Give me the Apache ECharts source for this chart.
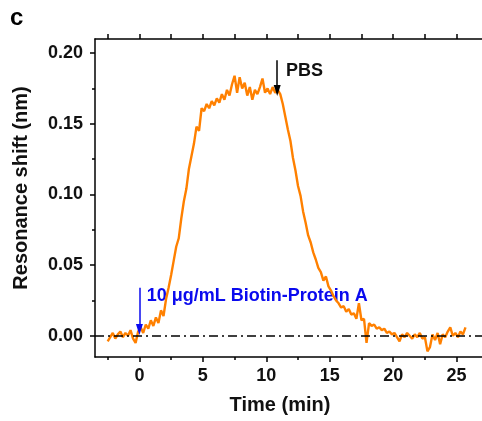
<!DOCTYPE html>
<html>
<head>
<meta charset="utf-8">
<script src="https://cdn.jsdelivr.net/npm/echarts@6/dist/echarts.min.js"></script>
<style>
  html, body { margin: 0; padding: 0; background: #fff; }
  #chart { width: 482px; height: 421px; }
</style>
</head>
<body>
<div id="chart"></div>
<script>
// time (min)
var times = [
  -2.5, -2.3, -2.1, -1.9, -1.7, -1.5, -1.3, -1.1, -0.9, -0.7, -0.5, -0.3, -0.1,
  0.1, 0.3, 0.5, 0.7, 0.9, 1.1, 1.3, 1.5, 1.7, 1.9, 2.1, 2.3, 2.5, 2.7, 2.9,
  3.1, 3.3, 3.5, 3.7, 3.9, 4.1, 4.3, 4.5, 4.7, 4.9, 5.1, 5.3, 5.5, 5.7, 5.9,
  6.1, 6.3, 6.5, 6.7, 6.9, 7.1, 7.3, 7.5, 7.7, 7.9, 8.1, 8.3, 8.5, 8.7, 8.9,
  9.1, 9.3, 9.5, 9.7, 9.9, 10.1, 10.3, 10.5, 10.7, 10.9, 11.1, 11.3, 11.5, 11.7, 11.9,
  12.1, 12.3, 12.5, 12.7, 12.9, 13.1, 13.3, 13.5, 13.7, 13.9, 14.1, 14.3, 14.5, 14.7, 14.9,
  15.1, 15.3, 15.5, 15.7, 15.9, 16.1, 16.3, 16.5, 16.7, 16.9, 17.1, 17.3, 17.5, 17.7, 17.9,
  18.1, 18.3, 18.5, 18.7, 18.9, 19.1, 19.3, 19.5, 19.7, 19.9, 20.1, 20.3, 20.5, 20.7, 20.9,
  21.1, 21.3, 21.5, 21.7, 21.9, 22.1, 22.3, 22.5, 22.7, 22.9, 23.1, 23.3, 23.5, 23.7, 23.9,
  24.1, 24.3, 24.5, 24.7, 24.9, 25.1, 25.3, 25.5, 25.7
];
// resonance shift (nm)
var shift = [
  -0.004, -0.001, 0.002, -0.002, 0.001, 0.003, -0.001, 0.002, 0.000, 0.004, -0.002, -0.005, 0.003,
  0.006, 0.002, 0.008, 0.005, 0.011, 0.007, 0.013, 0.009, 0.018, 0.014, 0.026, 0.034, 0.043, 0.053, 0.063,
  0.069, 0.083, 0.095, 0.104, 0.118, 0.127, 0.136, 0.148, 0.145, 0.161, 0.159, 0.164, 0.161, 0.166, 0.163,
  0.168, 0.165, 0.171, 0.167, 0.174, 0.170, 0.178, 0.184, 0.172, 0.183, 0.175, 0.179, 0.170, 0.176, 0.167,
  0.174, 0.171, 0.176, 0.182, 0.172, 0.175, 0.171, 0.176, 0.172, 0.174, 0.171, 0.164, 0.155, 0.146, 0.138,
  0.126, 0.117, 0.106, 0.099, 0.088, 0.080, 0.071, 0.066, 0.059, 0.054, 0.048, 0.045, 0.039, 0.042, 0.035,
  0.032, 0.028, 0.025, 0.023, 0.020, 0.021, 0.017, 0.019, 0.015, 0.016, 0.012, 0.023, 0.011, 0.012, -0.005,
  0.009, 0.007, 0.008, 0.005, 0.006, 0.004, 0.005, 0.002, 0.003, 0.001, 0.002, -0.001, -0.004, 0.001, -0.001,
  0.002, 0.000, -0.002, 0.001, -0.001, 0.002, -0.002, -0.001, -0.011, -0.008, 0.001, -0.003, 0.002, -0.006, 0.001,
  -0.001, 0.003, 0.006, 0.000, 0.002, -0.001, 0.003, 0.001, 0.006
];
var xTicks = [0, 5, 10, 15, 20, 25];
var xMinorTicks = [-2.5, 2.5, 7.5, 12.5, 17.5, 22.5];
var yTicks = [0, 0.05, 0.1, 0.15, 0.2];
var yMinorTicks = [0.025, 0.075, 0.125, 0.175];
// annotation arrows [x, yFrom, yTo]
var addArrow = [0, 0.034, 0.0045];
var pbsArrow = [10.86, 0.195, 0.1735];

var FONT = "'Liberation Sans', Arial, sans-serif";
var lineData = times.map(function (t, i) { return [t, shift[i]]; });

var chart = echarts.init(document.getElementById("chart"));

var axisLine = { show: true, onZero: false, lineStyle: { color: "#000", width: 1.5 } };
var tickStyle = { color: "#000", width: 1.5 };

chart.setOption({
  animation: false,
  grid: { left: 95, top: 39, right: -3, bottom: 64 },
  xAxis: [
    {
      type: "value", min: -3.5, max: 27, position: "bottom",
      axisLine: axisLine,
      axisTick: { customValues: xTicks, length: 5, lineStyle: tickStyle },
      axisLabel: { customValues: xTicks, margin: 10, color: "#111", fontSize: 18, fontWeight: "bold", fontFamily: FONT },
      splitLine: { show: false }
    },
    {
      // minor ticks bottom
      type: "value", min: -3.5, max: 27, position: "bottom",
      axisLine: { show: false, onZero: false },
      axisTick: { customValues: xMinorTicks, length: 3, lineStyle: tickStyle },
      axisLabel: { show: false },
      splitLine: { show: false }
    },
    {
      // top frame
      type: "value", min: -3.5, max: 27, position: "top",
      axisLine: axisLine,
      axisTick: { customValues: xTicks.concat(xMinorTicks), length: 5, lineStyle: tickStyle },
      axisLabel: { show: false },
      splitLine: { show: false }
    }
  ],
  yAxis: [
    {
      type: "value", min: -0.015, max: 0.21, position: "left",
      axisLine: axisLine,
      axisTick: { customValues: yTicks, length: 5, lineStyle: tickStyle },
      axisLabel: {
        customValues: yTicks, margin: 12, color: "#111", fontSize: 18, fontWeight: "bold", fontFamily: FONT,
        formatter: function (v) { return v.toFixed(2); }
      },
      splitLine: { show: false }
    },
    {
      type: "value", min: -0.015, max: 0.21, position: "left",
      axisLine: { show: false, onZero: false },
      axisTick: { customValues: yMinorTicks, length: 3, lineStyle: tickStyle },
      axisLabel: { show: false },
      splitLine: { show: false }
    }
  ],
  series: [
    {
      type: "line",
      data: lineData,
      showSymbol: false,
      lineStyle: { color: "#ff8000", width: 2.4 },
      z: 3,
      markLine: {
        silent: true,
        animation: false,
        label: { show: false },
        data: [
          // baseline
          [
            { coord: [-3.5, 0], symbol: "none", lineStyle: { color: "#000", width: 1.5, type: [9, 4, 2, 4] } },
            { coord: [27, 0], symbol: "none" }
          ],
          // injection arrow
          [
            { coord: [addArrow[0], addArrow[1]], symbol: "none", lineStyle: { color: "#0a0aee", width: 1.5, type: "solid" } },
            { coord: [addArrow[0], addArrow[2]], symbol: "triangle", symbolSize: [7, 11], symbolRotate: 180 }
          ],
          // PBS arrow
          [
            { coord: [pbsArrow[0], pbsArrow[1]], symbol: "none", lineStyle: { color: "#000", width: 1.5, type: "solid" } },
            { coord: [pbsArrow[0], pbsArrow[2]], symbol: "triangle", symbolSize: [7, 11], symbolRotate: 180 }
          ]
        ]
      }
    }
  ]
});

// texts placed from data positions
var p1 = chart.convertToPixel({ gridIndex: 0 }, [0.58, 0.028]);
var p2 = chart.convertToPixel({ gridIndex: 0 }, [11.55, 0.187]);

chart.setOption({
  graphic: [
    {
      type: "text", left: 10, top: 6,
      style: { text: "c", fill: "#000", font: "bold 24px " + FONT }
    },
    {
      type: "text", x: 21, y: 188, rotation: Math.PI / 2,
      style: { text: "Resonance shift (nm)", fill: "#111", font: "bold 20px " + FONT, align: "center", verticalAlign: "middle" }
    },
    {
      type: "text", x: 280, y: 405,
      style: { text: "Time (min)", fill: "#111", font: "bold 20px " + FONT, align: "center", verticalAlign: "middle" }
    },
    {
      type: "text", x: p1[0], y: p1[1],
      style: { text: "10 μg/mL Biotin-Protein A", fill: "#0a0aee", font: "bold 18px " + FONT, align: "left", verticalAlign: "middle" }
    },
    {
      type: "text", x: p2[0], y: p2[1],
      style: { text: "PBS", fill: "#111", font: "bold 18px " + FONT, align: "left", verticalAlign: "middle" }
    }
  ]
});
</script>
</body>
</html>
